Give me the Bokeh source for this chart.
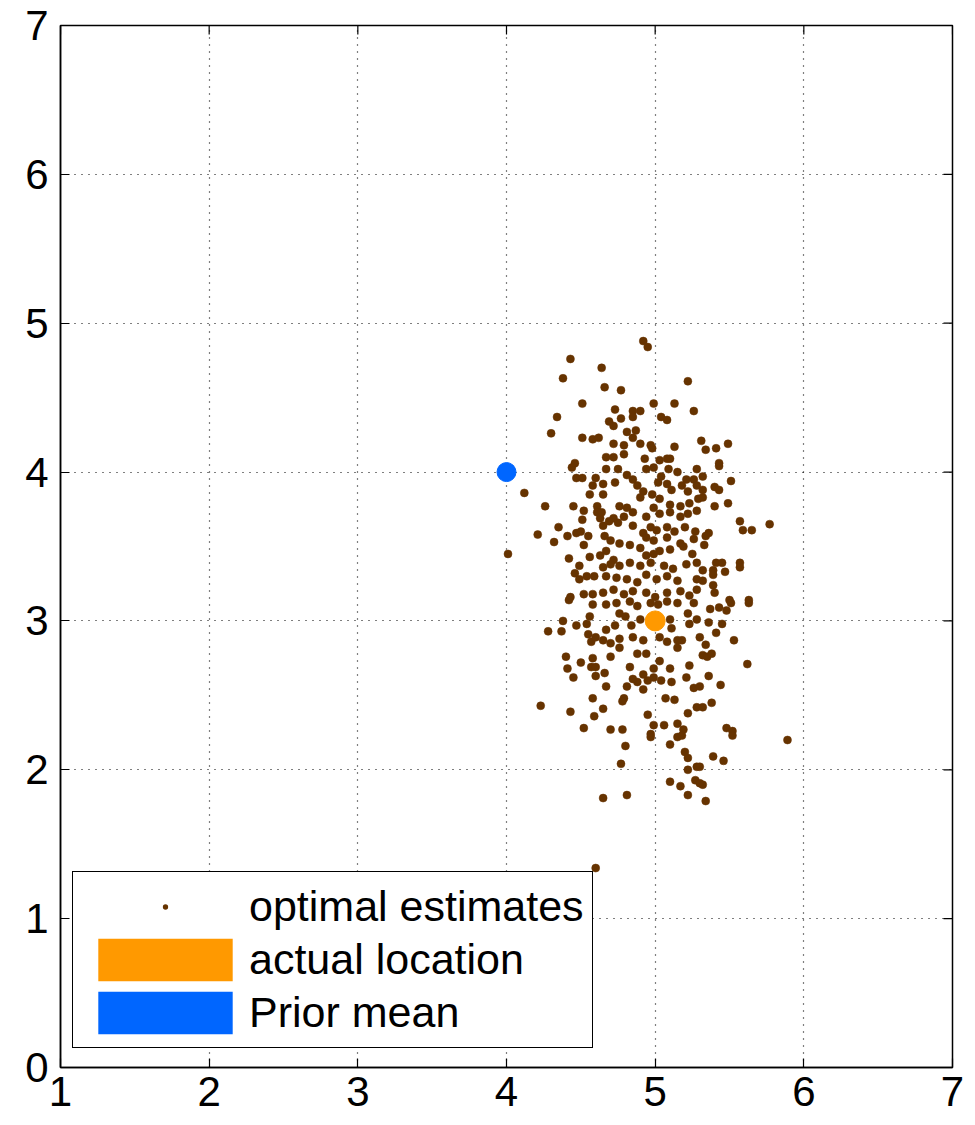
import math
from bokeh.plotting import figure
from bokeh.models import Range1d, FixedTicker, Legend, LegendItem
from bokeh.embed import file_html
from bokeh.resources import INLINE

# optimal estimates
est_x = [
    4.43, 4.38, 4.51, 4.34, 4.30, 4.51, 4.58, 4.62, 4.46, 4.64,
    4.92, 4.95, 4.66, 4.77, 5.22, 4.99, 5.13, 5.26, 4.73, 4.85, 4.90, 4.69, 4.72, 4.77,
    4.85, 5.04, 5.08, 4.81, 4.87, 4.85, 4.72, 4.79, 4.90, 4.97, 4.98, 5.13, 5.31, 4.67,
    4.72, 4.79, 4.93, 5.03, 5.08, 5.10,
    5.34, 5.41, 5.49, 5.43,
    4.12, 4.26, 4.45, 4.52, 4.51, 4.35, 4.21, 4.41, 4.47, 4.50, 4.55, 4.32, 4.52, 4.01,
    4.42, 4.56, 4.49, 4.46, 4.49, 4.54, 4.59, 4.43, 4.52, 4.58, 4.47, 4.51, 4.58, 4.56,
    4.60, 4.44, 4.61, 4.61, 4.63,
    4.67, 4.75, 4.81, 4.85, 4.94, 4.99, 5.04, 5.09, 5.15, 5.21, 5.28, 5.26, 4.65, 4.73,
    4.88, 4.92, 4.98, 5.02, 5.08, 5.11, 5.18, 5.22, 5.28, 4.65, 4.90, 5.03, 5.10, 5.17,
    5.23, 5.29, 4.76, 4.81, 4.99, 4.64, 4.72, 4.79, 4.85, 4.94, 5.03, 5.10, 5.17, 5.22,
    5.28, 4.69, 4.75, 4.65, 4.85, 4.97, 5.01, 5.08, 5.13, 5.20, 5.27, 4.92, 4.70, 4.76,
    4.83, 4.94, 4.99, 5.08, 5.17, 5.26, 4.66, 4.90, 5.03, 5.10, 5.19, 5.25, 4.63, 4.67,
    4.72, 4.94, 4.99, 4.70, 4.76, 4.83, 4.90, 4.97, 5.06, 5.12, 5.21, 5.28, 4.65, 4.67,
    4.74, 4.81, 4.94, 5.01, 5.08, 5.15, 5.28, 4.88, 4.65, 4.72, 4.79, 4.85, 4.94, 5.00,
    5.08, 5.17, 5.23, 5.28,
    5.32, 5.51, 5.40, 5.43, 5.32, 5.32, 5.49, 5.40, 5.57, 5.59, 5.65, 5.77, 5.36, 5.34,
    5.33, 5.41, 5.45, 5.57, 5.57, 5.32, 5.39, 5.39, 5.47, 5.32, 5.39, 5.40, 5.50, 5.63, 5.43,
    4.38, 4.28, 4.37, 4.47, 4.54, 4.56, 4.58, 4.42, 4.55, 4.57, 4.60, 4.40, 4.50, 4.58,
    4.41, 4.57, 4.60, 4.45, 4.60, 4.58, 4.23, 4.43, 4.59, 4.52,
    4.67, 4.74, 4.83, 4.88, 4.97, 5.02, 5.08, 5.15, 5.26, 4.76, 4.80, 4.73, 4.67, 4.84,
    4.90, 5.10, 5.11, 5.22, 5.23, 5.28, 5.30, 4.65, 4.70, 4.76, 4.85, 4.92, 4.88, 4.94,
    5.03, 5.08, 5.15, 5.18, 4.76, 4.70, 4.83, 4.66, 4.67, 4.92, 4.95, 4.88, 4.99, 5.04,
    5.11, 5.10, 5.03, 5.21, 5.23, 5.26, 5.30, 4.81, 4.79, 4.78, 4.92, 5.07, 5.13, 5.28,
    4.65, 4.95, 5.22, 4.99, 5.06, 5.15, 4.70, 4.78, 4.97, 5.19, 4.85, 4.99, 5.15,
    5.63, 5.51, 5.43, 5.37, 5.48, 5.36, 5.45, 5.41, 5.53, 5.34, 5.32, 5.35, 5.38, 5.62,
    5.36, 5.44, 5.38, 5.32, 5.48, 5.52,
    4.60,
    4.97, 4.80, 5.10, 5.15, 5.18, 5.20, 5.22, 4.77, 5.22, 5.28, 5.10, 5.17, 5.22, 5.27,
    5.30, 4.65, 4.81,
    5.52, 5.89, 5.39, 5.46, 5.32, 5.34, 5.30,
]
est_y = [
    4.76, 4.63, 4.46, 4.37, 4.26, 4.23, 4.22, 4.23, 4.06, 4.70,
    4.88, 4.84, 4.57, 4.55, 4.61, 4.46, 4.46, 4.41, 4.42, 4.41, 4.41, 4.34, 4.31, 4.36,
    4.37, 4.37, 4.35, 4.27, 4.28, 4.23, 4.19, 4.18, 4.19, 4.18, 4.16, 4.17, 4.21, 4.10,
    4.10, 4.12, 4.09, 4.08, 4.09, 4.09,
    4.15, 4.16, 4.19, 4.06,
    3.86, 3.77, 3.77, 3.74, 3.68, 3.63, 3.58, 3.57, 3.59, 3.60, 3.57, 3.53, 3.51, 3.45,
    3.42, 3.43, 3.37, 3.32, 3.28, 3.30, 3.30, 3.16, 3.18, 3.18, 3.96, 3.96, 3.91, 3.85,
    3.96, 4.03, 3.77, 3.73, 3.69,
    4.02, 4.02, 3.98, 3.95, 4.02, 4.03, 3.97, 4.02, 4.00, 3.95, 4.02, 3.95, 3.92, 3.93,
    3.91, 3.87, 3.85, 3.93, 3.92, 3.88, 3.91, 3.87, 3.91, 3.85, 3.83, 3.82, 3.78, 3.77,
    3.79, 3.82, 3.77, 3.76, 3.76, 3.73, 3.69, 3.70, 3.73, 3.70, 3.72, 3.73, 3.70, 3.72,
    3.74, 3.67, 3.66, 3.64, 3.64, 3.63, 3.61, 3.63, 3.60, 3.63, 3.60, 3.59, 3.54, 3.52,
    3.51, 3.56, 3.54, 3.56, 3.52, 3.55, 3.57, 3.49, 3.47, 3.48, 3.50, 3.45, 3.44, 3.47,
    3.41, 3.44, 3.45, 3.38, 3.37, 3.39, 3.37, 3.39, 3.37, 3.35, 3.38, 3.39, 3.36, 3.30,
    3.29, 3.28, 3.31, 3.28, 3.30, 3.27, 3.28, 3.26, 3.19, 3.21, 3.18, 3.20, 3.19, 3.16,
    3.19, 3.20, 3.17, 3.21,
    3.97, 3.94, 3.90, 3.88, 3.88, 3.83, 3.79, 3.77, 3.67, 3.61, 3.61, 3.65, 3.59, 3.57,
    3.51, 3.39, 3.39, 3.39, 3.36, 3.34, 3.34, 3.31, 3.33, 3.27, 3.24, 3.19, 3.14, 3.14, 4.04,
    3.00, 2.93, 2.93, 2.97, 2.98, 3.03, 3.11, 3.14, 2.91, 2.86, 2.89, 2.76, 2.72, 2.75,
    2.68, 2.69, 2.69, 2.62, 2.63, 2.48, 2.43, 2.39, 2.36, 2.28,
    3.11, 3.12, 3.13, 3.10, 3.12, 3.11, 3.13, 3.12, 3.12, 3.05, 3.03, 2.97, 2.94, 2.97,
    3.01, 3.01, 2.95, 3.05, 2.98, 3.01, 2.89, 2.87, 2.85, 2.88, 2.89, 2.87, 2.78, 2.78,
    2.89, 2.86, 2.82, 2.87, 2.82, 2.76, 2.69, 2.65, 2.56, 2.64, 2.60, 2.59, 2.68, 2.60,
    2.59, 2.68, 2.73, 2.62, 2.70, 2.55, 2.56, 2.56, 2.48, 2.46, 2.54, 2.48, 2.47, 2.42,
    2.41, 2.37, 2.38, 2.30, 2.30, 2.31, 2.27, 2.27, 2.24, 2.27, 2.61, 2.62, 2.87,
    3.12, 3.12, 3.09, 3.08, 3.07, 2.99, 2.98, 2.92, 2.87, 2.84, 2.77, 2.76, 2.78, 2.71,
    2.63, 2.57, 2.45, 2.42, 2.28, 2.26,
    1.34,
    2.22, 2.16, 2.17, 2.22, 2.23, 2.12, 2.08, 2.04, 2.00, 2.02, 1.92, 1.89, 1.83, 1.93,
    1.91, 1.81, 1.83,
    2.23, 2.20, 2.09, 2.06, 1.90, 1.79, 2.02,
]
actual_x = [5.0]
actual_y = [3.0]
prior_x = [4.0]
prior_y = [4.0]
x_ticks = [1, 2, 3, 4, 5, 6, 7]
y_ticks = [0, 1, 2, 3, 4, 5, 6, 7]
x_min, x_max = 1, 7
y_min, y_max = 0, 7

BROWN = "#663300"
ORANGE = "#FF9900"
BLUE = "#0066FF"
FONT = "Liberation Sans"

p = figure(frame_width=892, frame_height=1042,
           x_range=Range1d(x_min, x_max), y_range=Range1d(y_min, y_max),
           output_backend="svg", toolbar_location=None,
           min_border_left=60, min_border_right=23, min_border_top=25, min_border_bottom=58)
p.background_fill_color = "white"
p.border_fill_color = "white"
p.outline_line_color = "black"
p.outline_line_width = 1.5

for ax in (p.xaxis[0], p.yaxis[0]):
    ax.major_label_text_font = FONT
    ax.major_label_text_font_size = "42px"
    ax.major_label_text_color = "black"
    ax.major_tick_in = 9
    ax.major_tick_out = 0
    ax.minor_tick_line_color = None
    ax.axis_line_color = "black"
    ax.axis_line_width = 1.5
    ax.major_tick_line_width = 1.2
p.xaxis[0].major_label_standoff = 9
p.yaxis[0].major_label_standoff = 12
p.xaxis[0].ticker = FixedTicker(ticks=x_ticks)
p.yaxis[0].ticker = FixedTicker(ticks=y_ticks)

p.xgrid.ticker = FixedTicker(ticks=x_ticks)
p.ygrid.ticker = FixedTicker(ticks=y_ticks)
for g in (p.xgrid[0], p.ygrid[0]):
    g.grid_line_color = "black"
    g.grid_line_dash = "1 6"
    g.grid_line_width = 1.2
    g.grid_line_alpha = 1.0

# inward ticks on top and right edges (half of each dash lies inside the frame)
p.scatter(x_ticks, [y_max] * len(x_ticks), marker="dash", size=18, angle=math.pi / 2,
          line_color="black", line_width=1.2)
p.scatter([x_max] * len(y_ticks), y_ticks, marker="dash", size=18,
          line_color="black", line_width=1.2)

p.scatter(est_x, est_y, marker="circle", size=8, fill_color=BROWN, line_color=BROWN, line_width=0.5)
p.scatter(prior_x, prior_y, marker="circle", size=19, fill_color=BLUE, line_color=BLUE)
p.scatter(actual_x, actual_y, marker="circle", size=20, fill_color=ORANGE, line_color=ORANGE)

# legend proxies (one point each, placed outside the visible range)
off_x = [x_min - 10]
off_y = [y_min - 10]
leg_dot = p.scatter(off_x, off_y, marker="dot", size=8, fill_color=BROWN, line_color=BROWN, line_width=2)
leg_act = p.rect(off_x, off_y, width=1, height=1, fill_color=ORANGE, line_color=None)
leg_pri = p.rect(off_x, off_y, width=1, height=1, fill_color=BLUE, line_color=None)

legend = Legend(items=[
    LegendItem(label="optimal estimates", renderers=[leg_dot]),
    LegendItem(label="actual location", renderers=[leg_act]),
    LegendItem(label="Prior mean", renderers=[leg_pri]),
], location=(12, 19), glyph_width=168, glyph_height=53, label_standoff=0,
    label_text_font=FONT, label_text_font_size="43px", label_text_color="black",
    padding=8, spacing=0, margin=0, border_line_color="black", border_line_width=1.5,
    border_line_alpha=1.0, background_fill_color="white", background_fill_alpha=1.0)
p.add_layout(legend, "center")

open("out.html", "w").write(file_html(p, INLINE))
